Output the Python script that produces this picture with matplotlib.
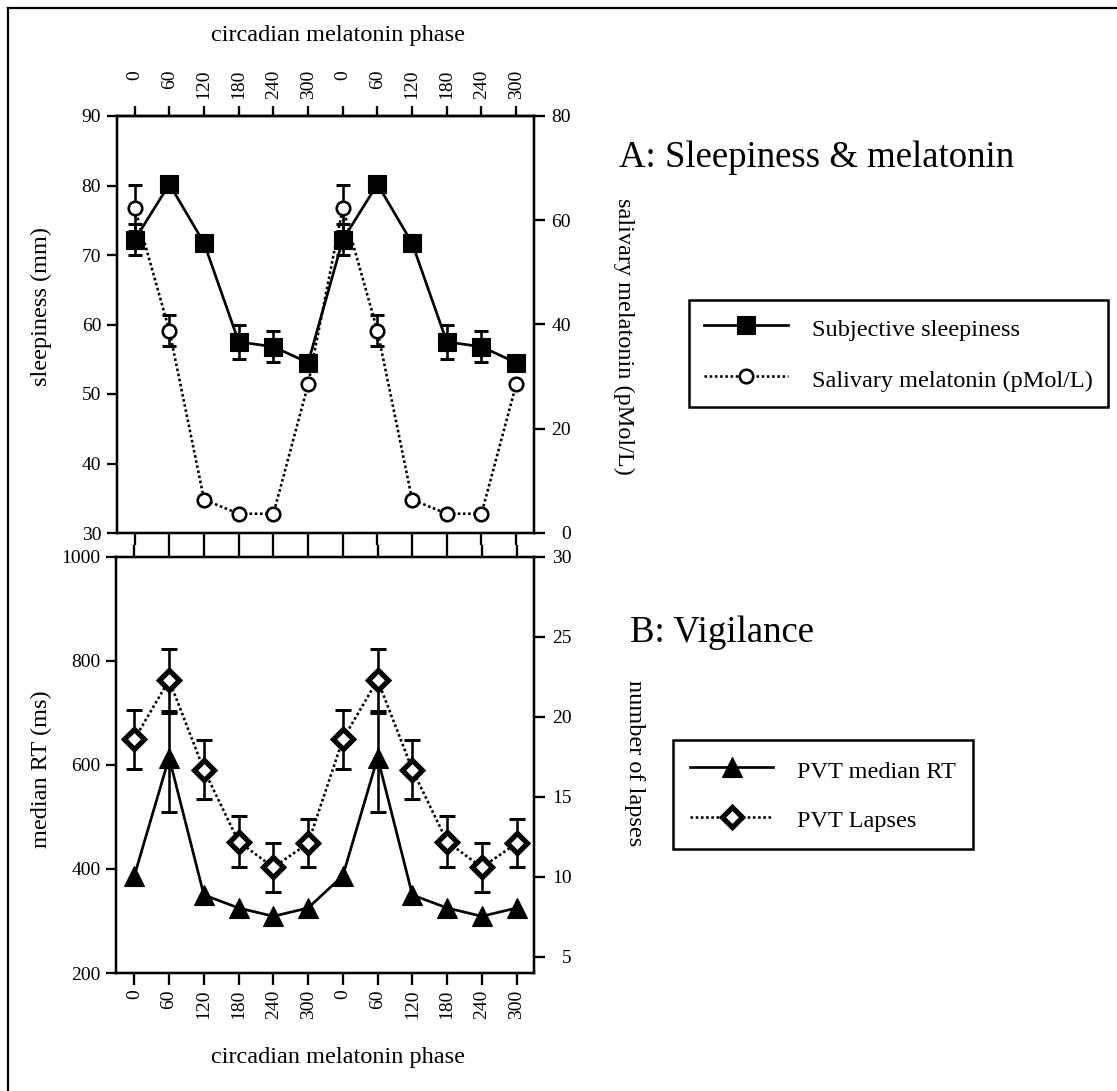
import matplotlib
matplotlib.use("Agg")
import matplotlib.pyplot as plt
from matplotlib.lines import Line2D
import numpy as np

# ---------------- data ----------------
phase_labels = ['0', '60', '120', '180', '240', '300', '0', '60', '120', '180', '240', '300']
sleepiness = [72.2, 80.2, 71.7, 57.5, 56.8, 54.5, 72.2, 80.2, 71.7, 57.5, 56.8, 54.5]
sleepiness_err = [2.2, 0, 0, 2.4, 2.2, 0, 2.2, 0, 0, 2.4, 2.2, 0]
melatonin = [62.4, 38.8, 6.4, 3.7, 3.7, 28.5, 62.4, 38.8, 6.4, 3.7, 3.7, 28.5]
melatonin_err = [4.4, 3.0, 0, 0, 0, 0, 4.4, 3.0, 0, 0, 0, 0]
median_rt = [387, 614, 350, 325, 309, 325, 387, 614, 350, 325, 309, 325]
median_rt_err_low = [0, 104, 0, 0, 0, 0, 0, 104, 0, 0, 0, 0]
median_rt_err_high = [0, 85, 0, 0, 0, 0, 0, 85, 0, 0, 0, 0]
lapses = [18.6, 22.3, 16.7, 12.2, 10.6, 12.1, 18.6, 22.3, 16.7, 12.2, 10.6, 12.1]
lapses_err = [1.85, 1.95, 1.85, 1.6, 1.55, 1.5, 1.85, 1.95, 1.85, 1.6, 1.55, 1.5]

sleep_ticks = [30, 40, 50, 60, 70, 80, 90]
mel_ticks = [0, 20, 40, 60, 80]
rt_ticks = [200, 400, 600, 800, 1000]
lapse_ticks = [5, 10, 15, 20, 25, 30]

# ---------------- helpers ----------------
W, H = 1117, 1091
DPI = 100
plt.rcParams['font.family'] = ['Liberation Serif', 'DejaVu Serif']


def fx(px):
    return px / W


def fy(py):
    return 1 - py / H


def pt(px):
    return px * 72.0 / DPI


LW_SPINE = pt(2.3)
LW_LINE = pt(2.7)
TICK_FS = 14
LABEL_FS = 17.5
LEG_FS = 17.5
TITLE_FS = 26.5

fig = plt.figure(figsize=(W / DPI, H / DPI), dpi=DPI)

# figure border (top and left)
fig.add_artist(Line2D([fx(8), 1.0], [fy(8), fy(8)], color='black', lw=pt(2.2)))
fig.add_artist(Line2D([fx(8), fx(8)], [fy(8), 0.0], color='black', lw=pt(2.2)))

x = np.arange(len(phase_labels))


def style_axes(ax):
    for s in ax.spines.values():
        s.set_linewidth(LW_SPINE)
        s.set_color('black')


def err_points(vals, lo, hi):
    idx = [i for i in range(len(vals)) if lo[i] > 0 or hi[i] > 0]
    return ([x[i] for i in idx], [vals[i] for i in idx],
            [[lo[i] for i in idx], [hi[i] for i in idx]])


SQ = dict(marker='s', ms=pt(18), mfc='black', mec='black', mew=0.8)
CI = dict(marker='o', ms=pt(13.5), mfc='white', mec='black', mew=pt(2.6))
TR = dict(marker='^', ms=pt(20), mfc='black', mec='black', mew=0.8)
DI = dict(marker='D', ms=pt(13.5), mfc='white', mec='black', mew=pt(5.2))
DOT = (0, (1, 1))

# ================= Panel A =================
ax1 = fig.add_axes([fx(116.7), fy(533), (533.5 - 116.7) / W, (533 - 116) / H])
ax1r = ax1.twinx()
for a in (ax1, ax1r):
    style_axes(a)
    a.set_xlim(-0.52, 11.5)
    a.patch.set_visible(False)

ax1.set_ylim(30, 90)
ax1.set_yticks(sleep_ticks, labels=[str(t) for t in sleep_ticks], fontsize=TICK_FS)
ax1.tick_params(axis='y', direction='out', length=pt(10.5), width=LW_SPINE, pad=pt(5))
ax1.set_xticks(x)
ax1.tick_params(axis='x', direction='out', bottom=True, top=False, labelbottom=False,
                length=pt(11.8), width=LW_SPINE)

sec1 = ax1.secondary_xaxis('top')
sec1.set_xticks(x, labels=phase_labels, rotation=90, va='top', fontsize=TICK_FS)
sec1.tick_params(axis='x', direction='out', length=pt(10), width=LW_SPINE, pad=pt(36))
sec1.spines['top'].set_linewidth(LW_SPINE)

ax1r.set_ylim(0, 80)
ax1r.set_yticks(mel_ticks, labels=[str(t) for t in mel_ticks], fontsize=TICK_FS, ha='right')
ax1r.tick_params(axis='y', direction='out', length=pt(10.5), width=LW_SPINE, pad=pt(27))

ex, ey, ee = err_points(sleepiness, sleepiness_err, sleepiness_err)
ax1.errorbar(ex, ey, yerr=ee, fmt='none', ecolor='black', elinewidth=pt(2.6),
             capsize=pt(7), capthick=pt(3), zorder=2)
ax1.plot(x, sleepiness, color='black', lw=LW_LINE, zorder=3, **SQ)

ex, ey, ee = err_points(melatonin, melatonin_err, melatonin_err)
ax1r.errorbar(ex, ey, yerr=ee, fmt='none', ecolor='black', elinewidth=pt(2.6),
              capsize=pt(7), capthick=pt(3), zorder=2)
ax1r.plot(x, melatonin, color='black', lw=pt(2.6), ls=DOT, zorder=3, **CI)

# ================= Panel B =================
ax2 = fig.add_axes([fx(116.3), fy(973), (534 - 116.3) / W, (973 - 556.7) / H])
ax2r = ax2.twinx()
for a in (ax2, ax2r):
    style_axes(a)
    a.set_xlim(-0.52, 11.5)
    a.patch.set_visible(False)

ax2.set_ylim(200, 1000)
ax2.set_yticks(rt_ticks, labels=[str(t) for t in rt_ticks], fontsize=TICK_FS)
ax2.tick_params(axis='y', direction='out', length=pt(10.5), width=LW_SPINE, pad=pt(5))
ax2.set_xticks(x, labels=phase_labels, rotation=90, fontsize=TICK_FS)
ax2.tick_params(axis='x', direction='out', bottom=True, top=True, labelbottom=True,
                labeltop=False, length=pt(12), width=LW_SPINE, pad=pt(4.5))

ax2r.set_ylim(4, 30)
ax2r.set_yticks(lapse_ticks, labels=[str(t) for t in lapse_ticks], fontsize=TICK_FS, ha='right')
ax2r.tick_params(axis='y', direction='out', length=pt(10.5), width=LW_SPINE, pad=pt(27))

ex, ey, ee = err_points(median_rt, median_rt_err_low, median_rt_err_high)
ax2.errorbar(ex, ey, yerr=ee, fmt='none', ecolor='black', elinewidth=pt(2.6),
             capsize=pt(8), capthick=pt(3), zorder=2)
ax2.plot(x, median_rt, color='black', lw=LW_LINE, zorder=3, **TR)

ex, ey, ee = err_points(lapses, lapses_err, lapses_err)
ax2r.errorbar(ex, ey, yerr=ee, fmt='none', ecolor='black', elinewidth=pt(2.6),
              capsize=pt(8), capthick=pt(3), zorder=2)
ax2r.plot(x, lapses, color='black', lw=pt(2.6), ls=DOT, zorder=3, **DI)

# ================= Text =================
fig.text(fx(338), fy(35), 'circadian melatonin phase', fontsize=LABEL_FS,
         ha='center', va='center')
fig.text(fx(338), fy(1058), 'circadian melatonin phase', fontsize=LABEL_FS,
         ha='center', va='center')
fig.text(fx(41), fy(307), 'sleepiness (mm)', fontsize=LABEL_FS, rotation=90,
         ha='center', va='center')
fig.text(fx(41), fy(769), 'median RT (ms)', fontsize=LABEL_FS, rotation=90,
         ha='center', va='center')
fig.text(fx(624), fy(336), 'salivary melatonin (pMol/L)', fontsize=LABEL_FS, rotation=270,
         ha='center', va='center')
fig.text(fx(634), fy(763), 'number of lapses', fontsize=LABEL_FS, rotation=270,
         ha='center', va='center')

fig.text(fx(619), fy(166.7), 'A: Sleepiness & melatonin', fontsize=TITLE_FS,
         ha='left', va='baseline')
fig.text(fx(630), fy(642), 'B: Vigilance', fontsize=TITLE_FS, ha='left', va='baseline')

# ================= Legends =================
em = LEG_FS * DPI / 72.0


def make_legend(handles, labels, left, top, line_px, pad_px, row_px):
    leg = fig.legend(handles, labels, loc='upper left',
                     bbox_to_anchor=(fx(left), fy(top)), bbox_transform=fig.transFigure,
                     borderaxespad=0, fontsize=LEG_FS, frameon=True, fancybox=False,
                     framealpha=1, edgecolor='black', numpoints=1,
                     handlelength=line_px / em, handleheight=30 / em,
                     handletextpad=24 / em, borderpad=pad_px / em,
                     labelspacing=(row_px - 30) / em)
    leg.get_frame().set_linewidth(pt(2.5))
    return leg


hA1 = Line2D([], [], color='black', lw=LW_LINE, **SQ)
hA2 = Line2D([], [], color='black', lw=pt(2.6), ls=DOT, **CI)
make_legend([hA1, hA2], ['Subjective sleepiness', 'Salivary melatonin (pMol/L)'],
            689, 300, 84, 15, 55)

hB1 = Line2D([], [], color='black', lw=LW_LINE, **TR)
hB2 = Line2D([], [], color='black', lw=pt(2.6), ls=DOT, **DI)
make_legend([hB1, hB2], ['PVT median RT', 'PVT Lapses'],
            673, 740, 83, 17, 53.5)

fig.savefig('out.png', dpi=DPI)
